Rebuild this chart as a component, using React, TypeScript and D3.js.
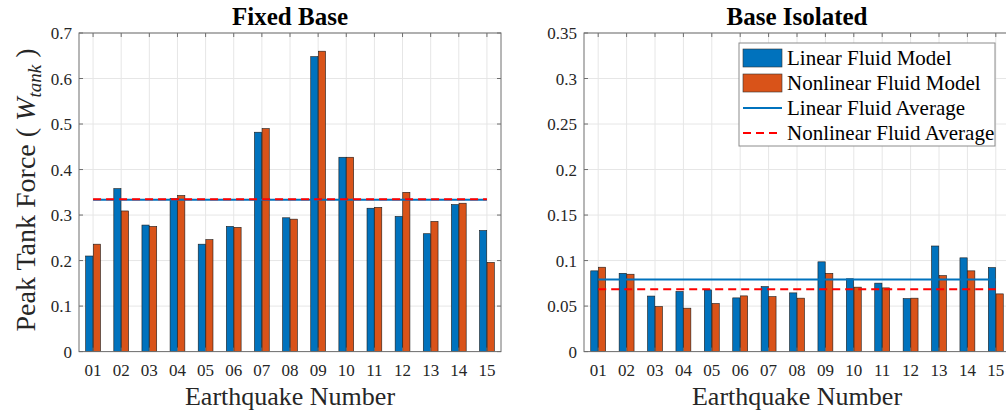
import React, { useEffect, useRef } from "react";
import * as d3 from "d3";

// earthquake records
const categories = ["01", "02", "03", "04", "05", "06", "07", "08", "09", "10", "11", "12", "13", "14", "15"];

// peak tank force, fixed base
const fixedLinear = [0.21, 0.358, 0.278, 0.336, 0.236, 0.275, 0.482, 0.294, 0.648, 0.427, 0.315, 0.297, 0.259, 0.323, 0.266];
const fixedNonlinear = [0.236, 0.309, 0.275, 0.343, 0.246, 0.273, 0.49, 0.291, 0.66, 0.427, 0.317, 0.35, 0.286, 0.326, 0.196];

// peak tank force, base isolated
const isoLinear = [0.0887, 0.086, 0.061, 0.066, 0.0678, 0.059, 0.0714, 0.0645, 0.0986, 0.080, 0.0752, 0.0582, 0.116, 0.103, 0.0923];
const isoNonlinear = [0.0927, 0.085, 0.0495, 0.0477, 0.0528, 0.0612, 0.0604, 0.0587, 0.086, 0.0708, 0.07, 0.0587, 0.0835, 0.0887, 0.0634];

const fixedTicks = [0, 0.1, 0.2, 0.3, 0.4, 0.5, 0.6, 0.7];
const isoTicks = [0, 0.05, 0.1, 0.15, 0.2, 0.25, 0.3, 0.35];

const BLUE = "#0072BD";
const ORANGE = "#D95319";
const FONT = "'Liberation Serif', 'Times New Roman', serif";
const AXIS = "#6e6e6e";

function drawPanel(svg: any, o: any) {
  const { left, right, top, bottom, title, linear, nonlinear, ticks, yMax } = o;
  const g = svg.append("g");

  const x = d3.scaleLinear().domain([0.5, 15.5]).range([left, right]);
  const y = d3.scaleLinear().domain([0, yMax]).range([bottom, top]);

  // grid
  g.append("g")
    .selectAll("line")
    .data(ticks)
    .join("line")
    .attr("x1", left).attr("x2", right)
    .attr("y1", (d: number) => y(d)).attr("y2", (d: number) => y(d))
    .attr("stroke", "#e6e6e6").attr("stroke-width", 1);
  g.append("g")
    .selectAll("line")
    .data(categories)
    .join("line")
    .attr("x1", (d: string, i: number) => x(i + 1)).attr("x2", (d: string, i: number) => x(i + 1))
    .attr("y1", top).attr("y2", bottom)
    .attr("stroke", "#e6e6e6").attr("stroke-width", 1);

  // bars
  const off = 0.135;
  const bw = x(0.255) - x(0);
  g.append("g")
    .selectAll("rect")
    .data(linear)
    .join("rect")
    .attr("x", (d: number, i: number) => x(i + 1 - off) - bw / 2)
    .attr("y", (d: number) => y(d))
    .attr("width", bw)
    .attr("height", (d: number) => bottom - y(d))
    .attr("fill", BLUE).attr("stroke", "#1a1a1a").attr("stroke-width", 0.6);
  g.append("g")
    .selectAll("rect")
    .data(nonlinear)
    .join("rect")
    .attr("x", (d: number, i: number) => x(i + 1 + off) - bw / 2)
    .attr("y", (d: number) => y(d))
    .attr("width", bw)
    .attr("height", (d: number) => bottom - y(d))
    .attr("fill", ORANGE).attr("stroke", "#1a1a1a").attr("stroke-width", 0.6);

  // averages
  const avgLin = d3.mean(linear) as number;
  const avgNon = d3.mean(nonlinear) as number;
  g.append("line")
    .attr("x1", x(1)).attr("x2", x(15)).attr("y1", y(avgLin)).attr("y2", y(avgLin))
    .attr("stroke", BLUE).attr("stroke-width", 2);
  g.append("line")
    .attr("x1", x(1)).attr("x2", x(15)).attr("y1", y(avgNon)).attr("y2", y(avgNon))
    .attr("stroke", "#FF0000").attr("stroke-width", 2).attr("stroke-dasharray", "8,5");

  // box + inward ticks
  g.append("rect")
    .attr("x", left).attr("y", top).attr("width", right - left).attr("height", bottom - top)
    .attr("fill", "none").attr("stroke", AXIS).attr("stroke-width", 1);
  const tl = 4;
  ticks.forEach((t: number) => {
    g.append("line").attr("x1", left).attr("x2", left + tl).attr("y1", y(t)).attr("y2", y(t)).attr("stroke", AXIS);
    g.append("line").attr("x1", right).attr("x2", right - tl).attr("y1", y(t)).attr("y2", y(t)).attr("stroke", AXIS);
  });
  categories.forEach((c, i) => {
    g.append("line").attr("x1", x(i + 1)).attr("x2", x(i + 1)).attr("y1", bottom).attr("y2", bottom - tl).attr("stroke", AXIS);
    g.append("line").attr("x1", x(i + 1)).attr("x2", x(i + 1)).attr("y1", top).attr("y2", top + tl).attr("stroke", AXIS);
  });

  // tick labels
  g.append("g")
    .selectAll("text")
    .data(ticks)
    .join("text")
    .attr("x", left - 7)
    .attr("y", (d: number) => y(d) + 6)
    .attr("text-anchor", "end")
    .style("font-family", FONT).style("font-size", "17px").attr("fill", "#262626")
    .text((d: number) => String(+d.toFixed(2)));
  g.append("g")
    .selectAll("text")
    .data(categories)
    .join("text")
    .attr("x", (d: string, i: number) => x(i + 1))
    .attr("y", bottom + 24)
    .attr("text-anchor", "middle")
    .style("font-family", FONT).style("font-size", "17px").attr("fill", "#262626")
    .text((d: string) => d);

  // titles
  g.append("text")
    .attr("x", (left + right) / 2).attr("y", 25)
    .attr("text-anchor", "middle")
    .style("font-family", FONT).style("font-size", "25px").style("font-weight", "bold")
    .attr("fill", "#000")
    .text(title);
  g.append("text")
    .attr("x", (x(1) + x(15)) / 2).attr("y", 405)
    .attr("text-anchor", "middle")
    .style("font-family", FONT).style("font-size", "26px").attr("fill", "#262626")
    .text("Earthquake Number");

  return { x, y };
}

export default function App() {
  const ref = useRef<SVGSVGElement>(null);

  useEffect(() => {
    const svg = d3.select(ref.current);
    svg.selectAll("*").remove();

    drawPanel(svg, {
      left: 79, right: 501, top: 33, bottom: 351.6,
      title: "Fixed Base", linear: fixedLinear, nonlinear: fixedNonlinear,
      ticks: fixedTicks, yMax: 0.7,
    });
    drawPanel(svg, {
      left: 584, right: 1010, top: 33, bottom: 351.6,
      title: "Base Isolated", linear: isoLinear, nonlinear: isoNonlinear,
      ticks: isoTicks, yMax: 0.35,
    });

    // y label
    const yl = svg.append("text")
      .attr("transform", "translate(35,190) rotate(-90)")
      .attr("text-anchor", "middle")
      .style("font-family", FONT).style("font-size", "28px").attr("fill", "#262626");
    yl.append("tspan").text("Peak Tank Force ( ");
    yl.append("tspan").style("font-style", "italic").text("W");
    yl.append("tspan").style("font-style", "italic").style("font-size", "19px").attr("dy", 6).text("tank");
    yl.append("tspan").attr("dy", -6).text(" )");

    // legend
    const lg = svg.append("g");
    lg.append("rect")
      .attr("x", 739).attr("y", 43).attr("width", 256).attr("height", 103)
      .attr("fill", "#fff").attr("stroke", "#8c8c8c").attr("stroke-width", 1);
    const items = [
      { label: "Linear Fluid Model", kind: "bar", color: BLUE },
      { label: "Nonlinear Fluid Model", kind: "bar", color: ORANGE },
      { label: "Linear Fluid Average", kind: "line", color: BLUE },
      { label: "Nonlinear Fluid Average", kind: "dash", color: "#FF0000" },
    ];
    items.forEach((it, i) => {
      const cy = 58 + i * 25;
      if (it.kind === "bar") {
        lg.append("rect").attr("x", 743).attr("y", cy - 9).attr("width", 39).attr("height", 18)
          .attr("fill", it.color).attr("stroke", "#333").attr("stroke-width", 0.6);
      } else {
        lg.append("line").attr("x1", 743).attr("x2", 782).attr("y1", cy).attr("y2", cy)
          .attr("stroke", it.color).attr("stroke-width", 2)
          .attr("stroke-dasharray", it.kind === "dash" ? "8,5" : null);
      }
      lg.append("text").attr("x", 787).attr("y", cy + 7)
        .style("font-family", FONT).style("font-size", "21px").attr("fill", "#000")
        .text(it.label);
    });
  }, []);

  return (
    <svg ref={ref} width={1006} height={413}
      style={{ position: "absolute", left: 0, top: 0, background: "#fff" }} />
  );
}
